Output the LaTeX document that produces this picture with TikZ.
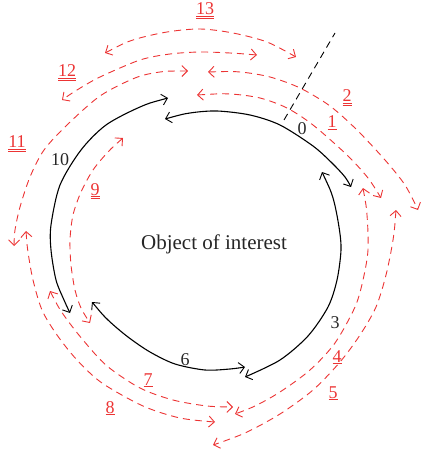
\documentclass[tikz,border=0pt]{standalone}
\usepackage{fontspec}
\setmainfont{Liberation Serif}
\usetikzlibrary{arrows.meta}
\definecolor{arcred}{RGB}{236,52,52}
\begin{document}
\begin{tikzpicture}[x=1pt,y=-1pt,
  tip/.tip={Straight Barb[length=5.5pt,width=11pt,line width=0.9pt]},
  blk/.style={line width=1.1pt, black, tip-tip},
  rd/.style={arcred, line width=0.9pt, dash pattern=on 7pt off 5pt, tip-tip},
  lbl/.style={font=\fontsize{18}{18}\selectfont, inner sep=0pt, anchor=base, text=black!85},
  rlbl/.style={lbl, text=arcred}]
\useasboundingbox (0,0) rectangle (422,457);

% black arcs
\draw[blk] plot[smooth] coordinates {(168,98) (140,107) (106,125) (81,150) (60,185) (51,225) (51,250) (56,280) (64,300) (70,313)};
\draw[blk] plot[smooth] coordinates {(165,119) (190,113) (217,111) (250,115) (280,125) (313,146) (332,163) (345,177) (351,187)};
\draw[blk] plot[smooth] coordinates {(322,172) (333,198) (339,227) (341,250) (337,280) (328,307) (308,336) (280,360) (245,377)};
\draw[blk] plot[smooth] coordinates {(92,302) (108,320) (128,337) (150,352) (175,364) (205,370) (230,369) (245,367)};

% start line
\coordinate (s0) at (284,120);
\coordinate (s1) at (335,33);
\draw[black, line width=0.9pt, dash pattern=on 7pt off 5pt] (s0) -- (s1);

% red arcs
\draw[rd] plot[smooth] coordinates {(197,95) (230,94) (260,98) (287,108) (313,125) (347,155) (368,178) (381,198)};
\draw[rd] plot[smooth] coordinates {(208,72) (240,72) (270,77) (300,88) (330,106) (357,130) (385,160) (405,185) (418,210)};
\draw[rd] plot[smooth] coordinates {(363,188) (367,215) (368,250) (363,280) (355,307) (335,343) (310,370) (280,392) (255,406) (235,414)};
\draw[rd] plot[smooth] coordinates {(396,210) (393,240) (386,275) (376,307) (360,335) (340,362) (313,390) (280,414) (245,433) (213,445)};
\draw[rd] plot[smooth] coordinates {(50,291) (63,314) (83,340) (107,366) (140,388) (173,400) (207,406) (233,407)};
\draw[rd] plot[smooth] coordinates {(26,231) (28,252) (33,280) (42,310) (57,335) (77,360) (102,383) (143,406) (180,418) (215,422)};
\draw[rd] plot[smooth] coordinates {(123,138) (108,152) (93,170) (81,192) (73,215) (70,240) (71,265) (75,290) (81,308) (90,323)};
\draw[rd] plot[smooth] coordinates {(188,71) (160,72) (135,78) (100,96) (67,125) (44,150) (30,177) (20,207) (15,230) (14,246)};
\draw[rd] plot[smooth] coordinates {(257,55) (230,53) (200,52) (170,54) (140,60) (100,77) (77,90) (62,100)};
\draw[rd] plot[smooth] coordinates {(105,53) (133,40) (167,32) (200,29) (233,33) (267,42) (296,57)};

% labels
\node[lbl] (l0) at (302,135) {0};
\node[lbl] (l3) at (335,328) {3};
\node[lbl] (l6) at (185,365) {6};
\node[lbl] (l10) at (60,165) {10};
\node[rlbl] (l1) at (332,128) {\underline{1}};
\node[rlbl] (l2) at (347,102) {\underline{\underline{2}}};
\node[rlbl] (l4) at (337,362) {\underline{4}};
\node[rlbl] (l5) at (333,398) {\underline{5}};
\node[rlbl] (l7) at (148,385) {\underline{7}};
\node[rlbl] (l8) at (110,413) {\underline{8}};
\node[rlbl] (l9) at (95,195) {\underline{\underline{9}}};
\node[rlbl] (l11) at (17,148) {\underline{\underline{11}}};
\node[rlbl] (l12) at (67,77) {\underline{\underline{12}}};
\node[rlbl] (l13) at (205,15) {\underline{\underline{13}}};
\node[lbl, font=\fontsize{21}{21}\selectfont] (obj) at (214,249) {Object of interest};
\end{tikzpicture}
\end{document}
